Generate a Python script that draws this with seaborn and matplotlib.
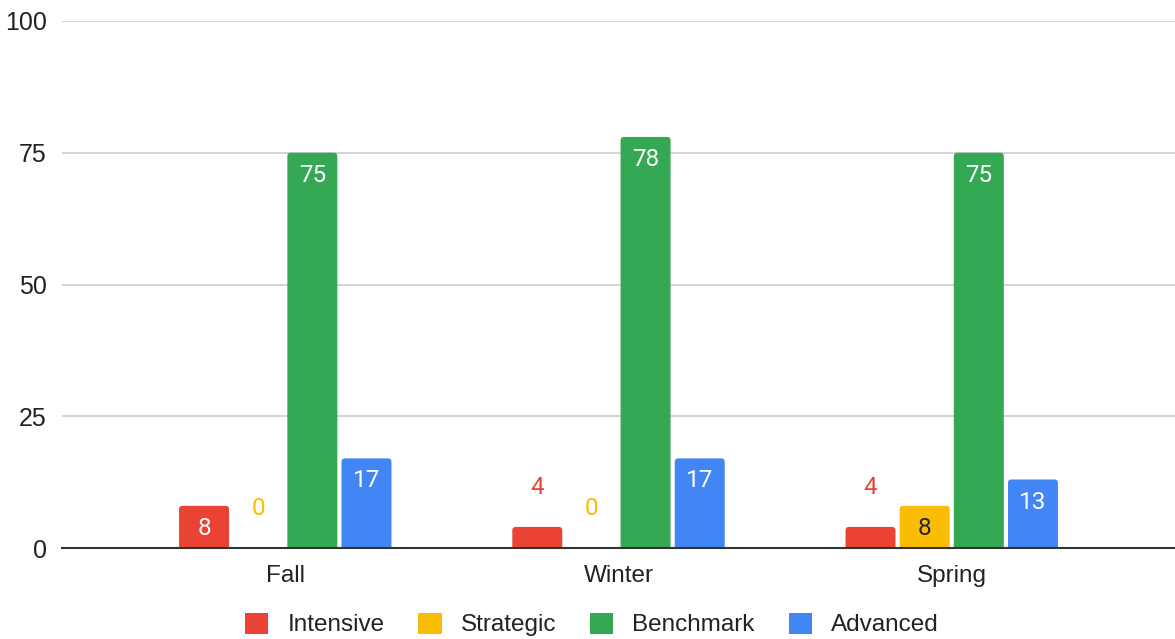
import matplotlib
matplotlib.use("Agg")
import matplotlib.pyplot as plt
from matplotlib.patches import FancyBboxPatch
import seaborn as sns
import pandas as pd

seasons = ["Fall", "Winter", "Spring"]
levels = ["Intensive", "Strategic", "Benchmark", "Advanced"]
intensive = [8, 4, 4]
strategic = [0, 0, 8]
benchmark = [75, 78, 75]
advanced = [17, 17, 13]
yticks = [0, 25, 50, 75, 100]
colors = ["#EA4335", "#FBBC04", "#34A853", "#4285F4"]

rows = []
for lvl, vals in zip(levels, [intensive, strategic, benchmark, advanced]):
    for s, v in zip(seasons, vals):
        rows.append({"Season": s, "Level": lvl, "Value": v})
df = pd.DataFrame(rows)

sns.set_style("white")
plt.rcParams["font.family"] = ["Liberation Sans", "DejaVu Sans"]

fig = plt.figure(figsize=(11.75, 6.39), dpi=100)
ax = fig.add_axes([62 / 1175, 91 / 639, 1 - 62 / 1175, (548 - 21) / 639])

sns.barplot(data=df, x="Season", y="Value", hue="Level", order=seasons,
            hue_order=levels, palette=colors, width=0.65, gap=0.077,
            saturation=1, ax=ax, legend=True, edgecolor="none")

ax.set_xlim(-0.67, 2.67)
ax.set_ylim(0, 100)
ax.set_yticks(yticks)
ax.set_yticklabels([str(t) for t in yticks], fontsize=18, color="#222222")
ax.tick_params(axis="x", labelsize=17.5, colors="#222222", length=0, pad=12)
ax.tick_params(axis="y", length=0, pad=11)
ax.set_xlabel("")
ax.set_ylabel("")
ax.yaxis.grid(True, color="#cccccc", linewidth=1.2)
ax.set_axisbelow(True)
for sp in ["top", "right", "left"]:
    ax.spines[sp].set_visible(False)
ax.spines["bottom"].set_color("#333333")
ax.spines["bottom"].set_linewidth(1.5)
ax.spines["bottom"].set_zorder(5)

# rounded corners: px -> data conversions
xpx = (1175 - 62) / (2.67 + 0.67)
ypx = (548 - 21) / 100.0
r_px = 3.5
for ci, cont in enumerate(ax.containers):
    for bar in cont:
        h = bar.get_height()
        if h <= 0:
            continue
        x0, w = bar.get_x(), bar.get_width()
        ext = r_px / ypx
        fb = FancyBboxPatch((x0, -ext), w, h + ext,
                            boxstyle=f"round,pad=0,rounding_size={r_px / xpx}",
                            mutation_aspect=xpx / ypx,
                            facecolor=bar.get_facecolor(), edgecolor="none",
                            zorder=bar.get_zorder())
        ax.add_patch(fb)
        bar.set_visible(False)

# Data labels
for ci, cont in enumerate(ax.containers):
    col = colors[ci]
    for bar in cont:
        h = bar.get_height()
        xc = bar.get_x() + bar.get_width() / 2
        txt = f"{h:g}"
        if h >= 7:
            tc = "#222222" if levels[ci] == "Strategic" else "white"
            ax.text(xc, h - 2.1, txt, ha="center", va="top", fontsize=17.5,
                    color=tc, family=["Roboto", "DejaVu Sans"])
        else:
            ax.text(xc, h + 5.3, txt, ha="center", va="bottom", fontsize=17.5,
                    color=col, family=["Roboto", "DejaVu Sans"])

leg = ax.legend(loc="upper center", bbox_to_anchor=(0.476, -0.081), ncol=4,
                frameon=False, fontsize=17.5, handlelength=0.95, handleheight=0.95,
                columnspacing=1.4, handletextpad=0.78)
for t in leg.get_texts():
    t.set_color("#222222")

fig.savefig("out.png", dpi=100)
